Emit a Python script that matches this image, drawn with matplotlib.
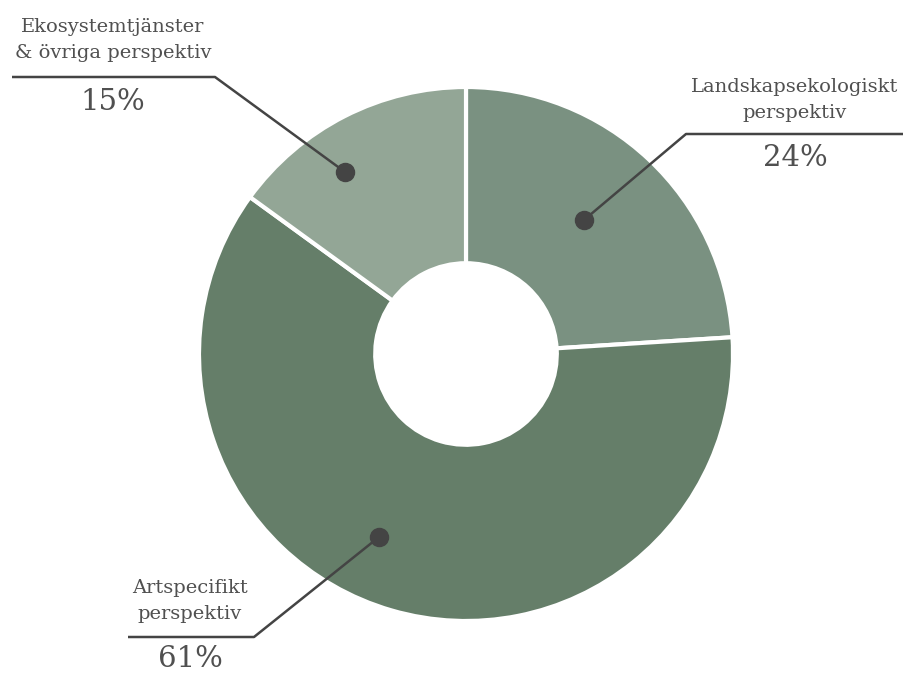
import numpy as np
import matplotlib.pyplot as plt

labels = ['Landskapsekologiskt\nperspektiv', 'Artspecifikt\nperspektiv', 'Ekosystemtjänster\n& övriga perspektiv']
shares = [24, 61, 15]
colors = ['#7a9181', '#657e69', '#93a696']

W, H = 908, 675
fig = plt.figure(figsize=(W / 100, H / 100), dpi=100)
ax = fig.add_axes([0, 0, 1, 1])

cx, cy, r = 466, H - 354, 267
ax.pie(shares, colors=colors, startangle=90, counterclock=False,
       center=(cx, cy), radius=r, frame=True,
       wedgeprops=dict(width=r * 0.66, edgecolor='white', linewidth=3))
ax.set_xlim(0, W)
ax.set_ylim(0, H)
ax.set_aspect('equal')
ax.axis('off')

txt = '#505050'
line = '#444444'
# (dot, elbow, shelf end, label centre x, label centre y, percent y) in pixels from top-left
callouts = [
    ((584, 220), (686, 134), 903, 795, 100, 158),
    ((379, 537), (254, 637), 128, 190, 601, 659),
    ((345, 172), (215, 77), 12, 113, 40, 102),
]
for (lab, val, (dot, elbow, end, tx, ty, py)) in zip(labels, shares, callouts):
    xs = [dot[0], elbow[0], end]
    ys = [H - dot[1], H - elbow[1], H - elbow[1]]
    ax.plot(xs, ys, color=line, lw=1.8, solid_capstyle='butt', zorder=3)
    ax.plot(dot[0], H - dot[1], 'o', color=line, ms=13, zorder=4)
    ax.text(tx, H - ty, lab, ha='center', va='center', color=txt,
            family='DejaVu Serif', fontsize=14, linespacing=1.6)
    ax.text(tx, H - py, f'{val}%', ha='center', va='center', color=txt,
            family='DejaVu Serif', fontsize=21)

fig.savefig('out.png', dpi=100, facecolor='white')
